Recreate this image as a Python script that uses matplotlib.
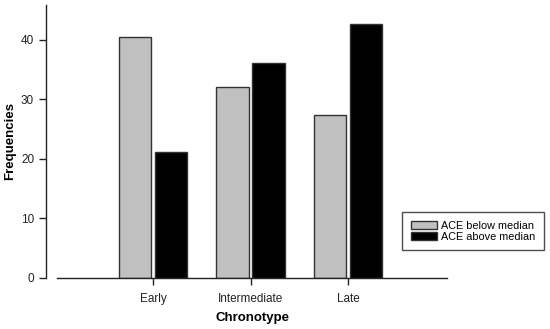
import numpy as np
import matplotlib.pyplot as plt
from matplotlib.patches import Patch

plt.rcParams['font.family'] = ['Liberation Sans', 'DejaVu Sans']

categories = ['Early', 'Intermediate', 'Late']
below = [40.5, 32.1, 27.3]
above = [21.2, 36.1, 42.6]

fig = plt.figure(figsize=(5.5, 3.29), dpi=100)
ax = fig.add_axes([57/550, 1-278/329, (447-57)/550, (278-5)/329])

x = np.arange(len(categories))
w = 0.33
ax.bar(x - 0.185, below, w, color='#c0c0c0', edgecolor='#333333', linewidth=1)
ax.bar(x + 0.185, above, w, color='black', edgecolor='#333333', linewidth=1)

ax.set_xlim(-0.985, 3.015)
ax.set_ylim(0, 45.8)
ax.set_yticks([0, 10, 20, 30, 40])
ax.set_xticks(x)
ax.set_xticklabels(categories)
ax.tick_params(direction='out', length=5, width=1, labelsize=8.5, colors='#222222')
ax.tick_params(axis='x', pad=6)

for s in ['top', 'right']:
    ax.spines[s].set_visible(False)
ax.spines['left'].set_position(('outward', 8))
for s in ['left', 'bottom']:
    ax.spines[s].set_linewidth(1)
    ax.spines[s].set_color('#222222')

ax.set_xlabel('Chronotype', fontsize=9.5, fontweight='bold', labelpad=5)
ax.set_ylabel('Frequencies', fontsize=9.5, fontweight='bold')
ax.yaxis.set_label_coords((10-57)/390, 0.5)
ax.yaxis.label.set_verticalalignment('center')

handles = [Patch(facecolor='#c0c0c0', edgecolor='#333333', label='ACE below median'),
           Patch(facecolor='black', edgecolor='#333333', label='ACE above median')]
leg = fig.legend(handles=handles, loc='upper left', bbox_to_anchor=(402/550, 1-212/329),
                 fontsize=7.8, frameon=True, fancybox=False, edgecolor='#222222',
                 handlelength=2.4, handleheight=0.7, handletextpad=0.4,
                 borderpad=0.8, labelspacing=0.1, borderaxespad=0)
leg.get_frame().set_linewidth(1)

plt.savefig('out.png', dpi=100)
